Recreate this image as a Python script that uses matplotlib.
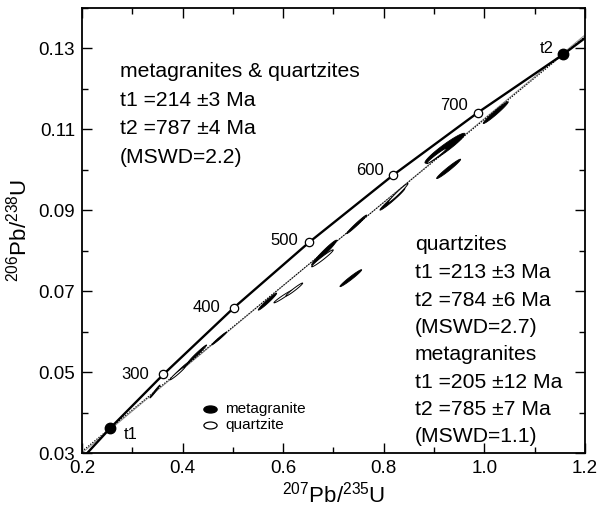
import numpy as np
import matplotlib
matplotlib.use("Agg")
import matplotlib.pyplot as plt
import matplotlib.path as mpath
from matplotlib.transforms import Affine2D

plt.rcParams['font.family'] = ['Liberation Sans', 'DejaVu Sans']
plt.rcParams['mathtext.fontset'] = 'custom'
plt.rcParams['mathtext.rm'] = 'Liberation Sans'
plt.rcParams['mathtext.it'] = 'Liberation Sans:italic'

# ---- data ----
# concordia curve: points along the curve (207Pb/235U, 206Pb/238U)
conc_x = [0.2105, 0.2557, 0.3616, 0.502, 0.652, 0.819, 0.987, 1.157, 1.200]
conc_y = [0.0300, 0.0361, 0.0494, 0.0659, 0.0821, 0.0987, 0.1141, 0.1285, 0.1325]

# age markers on concordia (Ma)
age_labels = ['300', '400', '500', '600', '700']
age_x = [0.3616, 0.502, 0.652, 0.819, 0.987]
age_y = [0.0494, 0.0659, 0.0821, 0.0987, 0.1141]

# intercepts
int_labels = ['t1', 't2']
int_x = [0.2557, 1.157]
int_y = [0.0361, 0.1285]

# discordia lines (endpoints)
disc1_x = [0.200, 1.200]
disc1_y = [0.0304, 0.1329]
disc2_x = [0.200, 1.200]
disc2_y = [0.0300, 0.1333]

# metagranite ellipses: centre x, centre y, half x-range, half y-range, rho
mg_cx = [0.3451, 0.3982, 0.4292, 0.4728, 0.5688, 0.6815, 0.7461, 0.7345, 0.8173, 0.9217, 0.9290, 1.0227]
mg_cy = [0.0452, 0.0508, 0.0545, 0.0583, 0.0674, 0.0795, 0.0865, 0.0732, 0.0927, 0.1053, 0.1002, 0.1141]
mg_sx = [0.0100, 0.0166, 0.0186, 0.0149, 0.0183, 0.0249, 0.0199, 0.0216, 0.0249, 0.0398, 0.0239, 0.0249]
mg_sy = [0.0016, 0.0019, 0.0022, 0.0016, 0.0021, 0.0031, 0.0023, 0.0021, 0.0027, 0.0037, 0.0024, 0.0027]
mg_rho = [0.985, 0.985, 0.985, 0.985, 0.975, 0.975, 0.985, 0.975, 0.98, 0.955, 0.975, 0.975]

# quartzite ellipses
qz_cx = [0.3899, 0.6009, 0.6222, 0.6781, 0.8282, 0.9052]
qz_cy = [0.0497, 0.0687, 0.0704, 0.0781, 0.0942, 0.1034]
qz_sx = [0.0149, 0.0192, 0.0166, 0.0215, 0.0200, 0.0199]
qz_sy = [0.0016, 0.0016, 0.0016, 0.0021, 0.0024, 0.0019]
qz_rho = [0.975, 0.975, 0.975, 0.975, 0.98, 0.975]

# ---- figure ----
fig = plt.figure(figsize=(6.03, 5.12), dpi=100)
ax = fig.add_axes([0.136, 0.1152, 0.834, 0.8696])
ax.set_xlim(0.2, 1.2)
ax.set_ylim(0.03, 0.14)


def ellipse_xy(cx, cy, sx, sy, rho, n=120):
    th = np.linspace(0, 2 * np.pi, n)
    x = cx + sx * np.cos(th)
    y = cy + sy * (rho * np.cos(th) + np.sqrt(1 - rho ** 2) * np.sin(th))
    return x, y


# discordia
ax.plot(disc2_x, disc2_y, color='#888888', lw=0.6, zorder=1)
ax.plot(disc1_x, disc1_y, color='black', lw=0.8, ls=(0, (1.2, 1.2)), zorder=1)

# ellipses
for cx, cy, sx, sy, r in zip(mg_cx, mg_cy, mg_sx, mg_sy, mg_rho):
    ex, ey = ellipse_xy(cx, cy, sx, sy, r)
    ax.fill(ex, ey, facecolor='black', edgecolor='black', lw=0.6, zorder=2)
for cx, cy, sx, sy, r in zip(qz_cx, qz_cy, qz_sx, qz_sy, qz_rho):
    ex, ey = ellipse_xy(cx, cy, sx, sy, r)
    ax.fill(ex, ey, facecolor='white', edgecolor='black', lw=0.7, zorder=3)

# concordia
ax.plot(conc_x, conc_y, color='black', lw=1.7, zorder=4, solid_joinstyle='round')
ax.plot(age_x, age_y, 'o', ms=6, mfc='white', mec='black', mew=0.9, zorder=5)
ax.plot(int_x, int_y, 'o', ms=7.5, mfc='black', mec='black', zorder=5)

age_off = [(-10, 0), (-10, 0), (-8, 1.5), (-7, 3), (-7, 5)]
for lab, x, y, off in zip(age_labels, age_x, age_y, age_off):
    ax.annotate(lab, (x, y), xytext=off, textcoords='offset points',
                ha='right', va='center', fontsize=12, zorder=6)
ax.annotate(int_labels[0], (int_x[0], int_y[0]), xytext=(10, -4.5),
            textcoords='offset points', ha='left', va='center', fontsize=12)
ax.annotate(int_labels[1], (int_x[1], int_y[1]), xytext=(-7, 4),
            textcoords='offset points', ha='right', va='center', fontsize=12)

# text blocks
fs = 15.2
left_block = ['metagranites & quartzites', 't1 =214 \u00b13 Ma', 't2 =787 \u00b14 Ma', '(MSWD=2.2)']
for i, s in enumerate(left_block):
    yb = 77 + i * 28.7
    ax.text(0.0755, (453 - yb) / 445.2, s, transform=ax.transAxes,
            ha='left', va='baseline', fontsize=fs)
right_block = ['quartzites', 't1 =213 \u00b13 Ma', 't2 =784 \u00b16 Ma', '(MSWD=2.7)',
               'metagranites', 't1 =205 \u00b112 Ma', 't2 =785 \u00b17 Ma', '(MSWD=1.1)']
right_base = [250, 278, 306, 333, 360, 388, 415, 442]
for s, yb in zip(right_block, right_base):
    ax.text(0.662, (453 - yb) / 445.2, s, transform=ax.transAxes,
            ha='left', va='baseline', fontsize=fs)

# legend
emark = mpath.Path.unit_circle().transformed(Affine2D().scale(1.9, 1.0))
ax.plot([0.2545], [0.0988], marker=emark, ms=9.5, mfc='black', mec='black',
        transform=ax.transAxes, ls='none')
ax.plot([0.2545], [0.0629], marker=emark, ms=9.5, mfc='white', mec='black', mew=0.9,
        transform=ax.transAxes, ls='none')
ax.text(0.285, 0.0988, 'metagranite', transform=ax.transAxes, ha='left', va='center', fontsize=11)
ax.text(0.285, 0.0629, 'quartzite', transform=ax.transAxes, ha='left', va='center', fontsize=11)

# axes styling
xmaj = [0.2, 0.4, 0.6, 0.8, 1.0, 1.2]
xmin = [0.3, 0.5, 0.7, 0.9, 1.1]
ymaj = [0.03, 0.05, 0.07, 0.09, 0.11, 0.13]
ymin = [0.04, 0.06, 0.08, 0.10, 0.12, 0.14]
ax.set_xticks(xmaj)
ax.set_xticklabels(['0.2', '0.4', '0.6', '0.8', '1.0', '1.2'])
ax.set_xticks(xmin, minor=True)
ax.set_yticks(ymaj)
ax.set_yticklabels(['0.03', '0.05', '0.07', '0.09', '0.11', '0.13'])
ax.set_yticks(ymin, minor=True)
ax.tick_params(which='both', direction='in', top=True, right=True, width=1.0, labelsize=13.5, pad=5)
ax.tick_params(which='major', length=7)
ax.tick_params(which='minor', length=4.5)
for sp in ax.spines.values():
    sp.set_linewidth(1.3)

ax.set_xlabel(r'$\mathregular{^{207}Pb/^{235}U}$', fontsize=16, labelpad=3)
ax.set_ylabel(r'$\mathregular{^{206}Pb/^{238}U}$', fontsize=16, labelpad=5)

fig.savefig('out.png', dpi=100)
